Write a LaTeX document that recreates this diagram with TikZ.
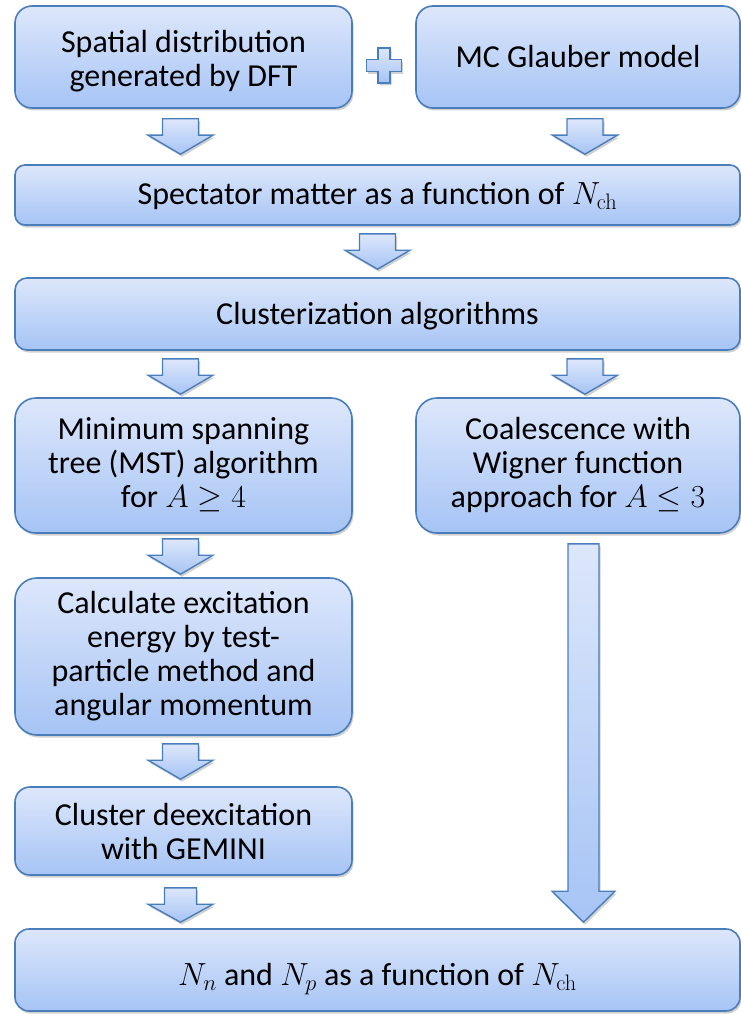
\RequirePackage{fix-cm}
\documentclass[tikz,border=0pt]{standalone}
\usepackage[no-math]{fontspec}
\setmainfont{Carlito}
\usetikzlibrary{calc,shadows}
\definecolor{edgeblue}{RGB}{74,126,187}
\definecolor{filltop}{RGB}{221,231,251}
\definecolor{fillbottom}{RGB}{166,196,245}
\tikzset{
  softshadow/.style={drop shadow={shadow xshift=1.5pt,shadow yshift=-2.5pt,opacity=.18,fill=black}},
  stepbox/.style={draw=edgeblue,line width=1.6pt,top color=filltop,bottom color=fillbottom,
    inner sep=0pt,align=center,font=\fontsize{32}{34}\selectfont,softshadow},
  flowarrow/.style={draw=edgeblue,line width=1.4pt,top color=filltop,bottom color=fillbottom,
    line join=miter,softshadow},
}
% text block lowered by #1 inside its box, keeping the box centred
\newcommand\lowered[2]{\raisebox{-#1}[\dimexpr\height+#1\relax][\dimexpr\depth+#1\relax]{%
  \begin{tabular}{@{}c@{}}#2\end{tabular}}}
% downward block arrow: #1 top point, #2 tip point, #3 shaft half width,
% #4 head half width, #5 head length
\newcommand\blockarrow[5]{%
  \path[flowarrow] let \p1=#1, \p2=#2 in
    (\x1-#3,\y1) -- (\x1+#3,\y1) -- (\x1+#3,\y2+#5) -- (\x1+#4,\y2+#5) -- (\x1,\y2)
    -- (\x1-#4,\y2+#5) -- (\x1-#3,\y2+#5) -- cycle;}
\begin{document}
\begin{tikzpicture}[x=1pt,y=-1pt]
\useasboundingbox (0,0) rectangle (741,1014);

% process boxes
\node[stepbox,rounded corners=17pt,minimum width=337pt,minimum height=102pt] (b1) at (183.5,57)
  {\lowered{6pt}{Spatial distribution\\generated by DFT}};
\node[stepbox,rounded corners=17pt,minimum width=324pt,minimum height=102pt] (b2) at (578,57)
  {\lowered{4pt}{MC Glauber model}};
\node[stepbox,rounded corners=10pt,minimum width=725pt,minimum height=60pt] (b3) at (377.5,195)
  {\lowered{3pt}{Spectator matter as a function of $N_{\mathrm{ch}}$}};
\node[stepbox,rounded corners=12pt,minimum width=725pt,minimum height=72pt] (b4) at (377.5,314)
  {\lowered{4pt}{Clusterization algorithms}};
\node[stepbox,rounded corners=21pt,minimum width=337pt,minimum height=135pt] (b5) at (183.5,465.5)
  {\lowered{1pt}{Minimum spanning\\tree (MST) algorithm\\for $A\geq 4$}};
\node[stepbox,rounded corners=21pt,minimum width=324pt,minimum height=135pt] (b6) at (578,465.5)
  {\lowered{1pt}{Coalescence with\\Wigner function\\approach for $A\leq 3$}};
\node[stepbox,rounded corners=22pt,minimum width=337pt,minimum height=157pt] (b7) at (183.5,656.5)
  {Calculate excitation\\energy by test-\\particle method and\\angular momentum};
\node[stepbox,rounded corners=15pt,minimum width=337pt,minimum height=88pt] (b8) at (183.5,831)
  {Cluster deexcitation\\with GEMINI};
\node[stepbox,rounded corners=14pt,minimum width=725pt,minimum height=82pt] (b9) at (377.5,970)
  {\lowered{9pt}{$N_n$ and $N_p$ as a function of $N_{\mathrm{ch}}$}};

% plus sign between the two input boxes
\coordinate (plus) at ($(b1.east)!0.5!(b2.west)+(0,8.5)$);
\path[flowarrow,shift={(plus)}] (-6,-17.5) -- (6,-17.5) -- (6,-6) -- (17.5,-6) -- (17.5,6)
  -- (6,6) -- (6,17.5) -- (-6,17.5) -- (-6,6) -- (-17.5,6) -- (-17.5,-6) -- (-6,-6) -- cycle;

% block arrows between the stages
\blockarrow{($(b1.south)+(-3,10)$)}{($(b3.north)+(0,-10)$)}{18pt}{32.5pt}{19pt}
\blockarrow{($(b2.south)+(7,10)$)}{($(b3.north)+(0,-10)$)}{18pt}{32.5pt}{19pt}
\blockarrow{($(b3.south)+(0,8)$)}{($(b4.north)+(0,-8)$)}{18pt}{32.5pt}{19pt}
\blockarrow{($(b4.south -| b5.north)+(-3,8)$)}{($(b5.north)+(0,-3)$)}{18pt}{32.5pt}{19pt}
\blockarrow{($(b4.south -| b6.north)+(7,8)$)}{($(b6.north)+(0,-3)$)}{18pt}{32.5pt}{19pt}
\blockarrow{($(b5.south)+(-3,5)$)}{($(b7.north)+(0,-3)$)}{18pt}{32.5pt}{19pt}
\blockarrow{($(b7.south)+(-3,8)$)}{($(b8.north)+(0,-7)$)}{18pt}{32.5pt}{19pt}
\blockarrow{($(b8.south)+(-3,12)$)}{($(b9.north)+(0,-6)$)}{16pt}{32.5pt}{18pt}
% long arrow from the coalescence branch down to the final box
\blockarrow{($(b6.south)+(5.5,10)$)}{($(b9.north)+(0,-6)$)}{15.5pt}{31.5pt}{31pt}
\end{tikzpicture}
\end{document}
